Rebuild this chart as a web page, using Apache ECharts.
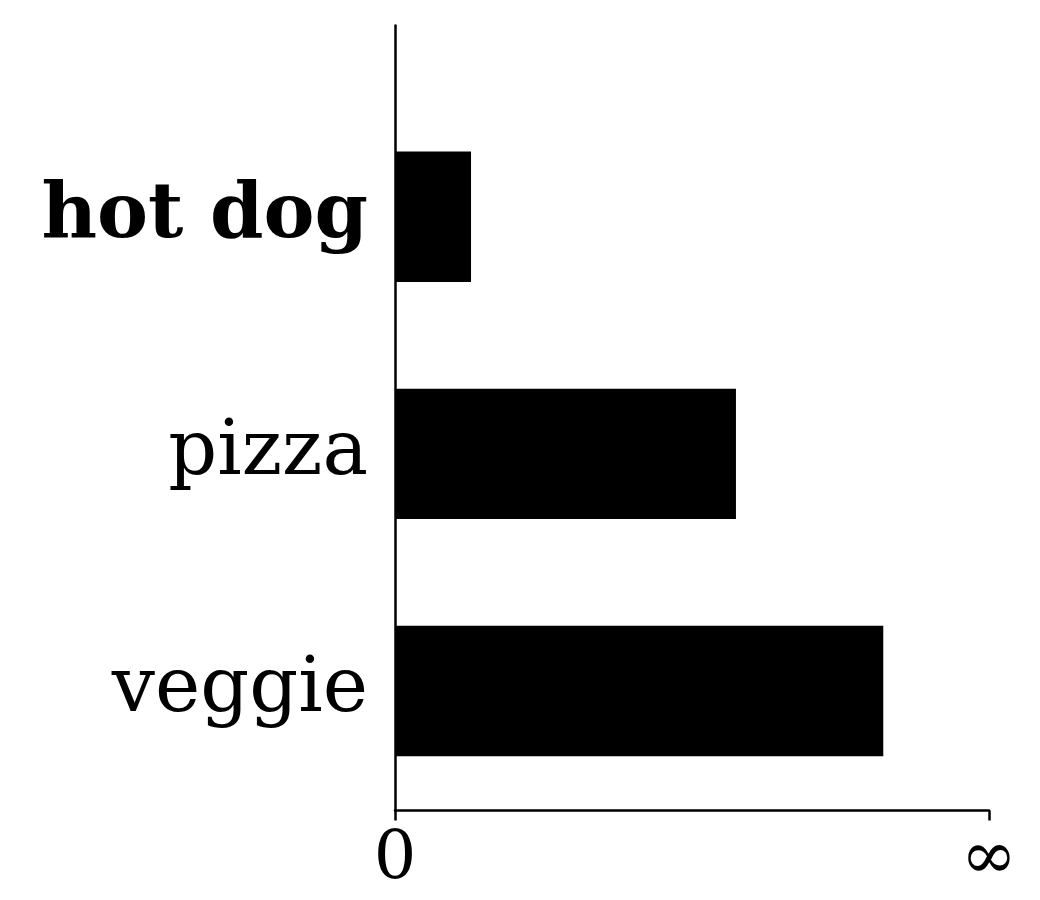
<!DOCTYPE html>
<html>
<head>
<meta charset="utf-8">
<script src="https://cdn.jsdelivr.net/npm/echarts@6/dist/echarts.min.js"></script>
<style>html,body{margin:0;padding:0;background:#fff}#chart{width:1040px;height:900px}</style>
</head>
<body>
<div id="chart"></div>
<script>
// bottom-to-top order (ECharts category y axis starts at the bottom)
const categories = ['veggie', 'pizza', 'hot dog'];
const values = [0.822, 0.574, 0.128];
const boldCategory = 'hot dog';
const xTickValues = [0, 1];
const xTickLabels = ['0', '\u221e'];

const FONT = '"DejaVu Serif", serif';
const chart = echarts.init(document.getElementById('chart'), null, {renderer: 'canvas'});

const lineStyle = {color: '#000', width: 2.5};

chart.setOption({
  animation: false,
  backgroundColor: '#fff',
  grid: [
    {left: 395, right: 51, top: 98.2, bottom: 90.5, containLabel: false},
    {left: 395, right: 51, top: 25.5, bottom: 89.5, containLabel: false}
  ],
  xAxis: [
    {gridIndex: 0, type: 'value', min: 0, max: 1, show: false},
    {
      gridIndex: 1, type: 'value', min: xTickValues[0], max: xTickValues[xTickValues.length - 1], interval: 1,
      axisLine: {show: true, lineStyle: lineStyle},
      axisTick: {show: true, length: 10, lineStyle: lineStyle},
      splitLine: {show: false},
      axisLabel: {
        show: true, margin: 17, color: '#000', fontFamily: FONT, fontSize: 67,
        formatter: function (v) { const i = xTickValues.indexOf(v); return i >= 0 ? xTickLabels[i] : ''; }
      }
    }
  ],
  yAxis: [
    {
      gridIndex: 0, type: 'category',
      data: categories.map(c => c === boldCategory ? {value: c, textStyle: {fontWeight: 'bold'}} : c),
      axisLine: {show: false}, axisTick: {show: false}, splitLine: {show: false},
      axisLabel: {show: true, margin: 27, color: '#000', fontFamily: FONT, fontSize: 76.5}
    },
    {
      gridIndex: 1, type: 'value', min: 0, max: 1,
      axisLine: {show: true, lineStyle: lineStyle},
      axisTick: {show: false}, axisLabel: {show: false}, splitLine: {show: false}
    }
  ],
  series: [{
    type: 'bar', xAxisIndex: 0, yAxisIndex: 0,
    data: values, barWidth: '55%',
    itemStyle: {color: '#000'}
  }]
});
</script>
</body>
</html>
